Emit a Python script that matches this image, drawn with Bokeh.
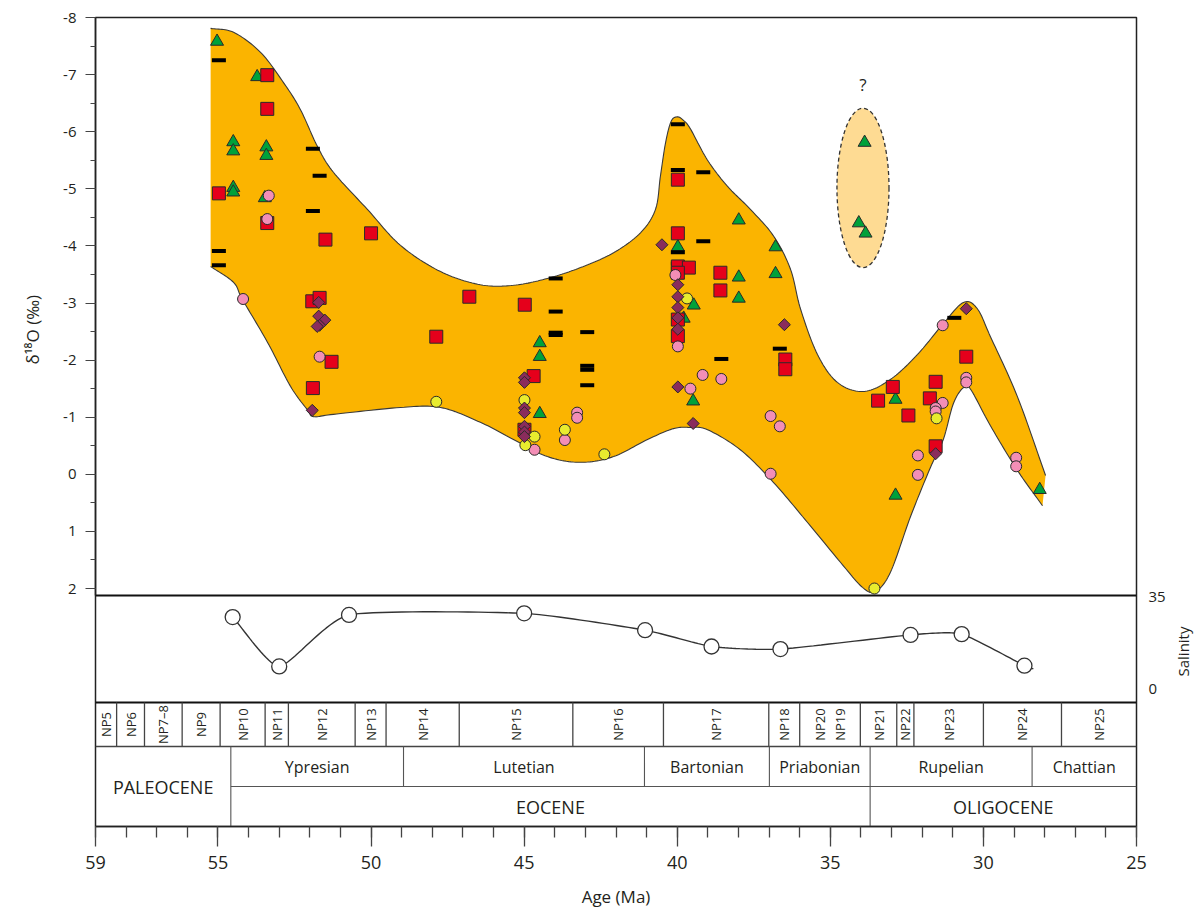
import math
import numpy as np
from bokeh.plotting import figure
from bokeh.layouts import row
from bokeh.models import Range1d, LinearAxis, FixedTicker, SingleIntervalTicker, Title
from bokeh.core.properties import value
from bokeh.embed import file_html
from bokeh.resources import INLINE

# ---------------------------------------------------------------- data
# envelope outline (age in Ma, d18O in permil), upper edge left->right
env_upper_age = [55.24, 54.49, 53.61, 52.86, 52.31, 51.75, 51.23, 50.12, 49.04, 47.73,
                 46.43, 45.35, 44.24, 43.16, 42.08, 41.20, 40.71, 40.55, 40.38, 40.20,
                 40.00, 39.80, 39.57, 39.02, 38.37, 37.61, 36.85, 36.30, 35.97, 35.42,
                 34.77, 33.92, 33.04, 32.15, 31.31, 30.65, 30.20, 29.77, 28.89, 27.97]
env_upper_d = [-7.81, -7.74, -7.39, -6.86, -6.39, -5.74, -5.29, -4.64, -4.01, -3.55,
               -3.32, -3.31, -3.43, -3.62, -3.88, -4.23, -4.64, -5.22, -5.81, -6.18,
               -6.26, -6.20, -6.05, -5.51, -5.05, -4.64, -4.17, -3.59, -2.89, -2.10,
               -1.61, -1.45, -1.66, -2.10, -2.64, -3.01, -2.90, -2.41, -1.36, 0.02]
# lower edge right->left
env_lower_age = [28.07, 28.89, 29.77, 30.42, 30.65, 30.98, 31.31, 31.73, 32.38, 33.04,
                 33.53, 33.95, 34.67, 35.75, 36.86, 37.94, 39.01, 39.57, 40.12, 40.97,
                 42.08, 43.16, 44.24, 45.35, 46.43, 47.73, 49.04, 51.23, 51.88, 52.08,
                 52.63, 53.38, 54.20, 54.49, 55.24]
env_lower_d = [0.55, -0.07, -0.85, -1.49, -1.52, -1.24, -0.61, -0.12, 0.74, 1.72,
               2.05, 1.98, 1.54, 0.84, 0.14, -0.43, -0.78, -0.82, -0.80, -0.61,
               -0.31, -0.21, -0.31, -0.61, -0.91, -1.17, -1.17, -1.05, -1.01, -1.13,
               -1.54, -2.31, -3.06, -3.36, -3.64]

tri_age = [55.03, 53.72, 54.50, 54.50, 53.42, 53.42, 54.50, 54.50, 53.47, 44.49,
           44.49, 44.49, 39.98, 37.99, 36.79, 37.99, 37.99, 36.79, 39.46, 39.79,
           39.48, 32.87, 32.87, 28.16]
tri_d = [-7.58, -6.96, -5.82, -5.66, -5.73, -5.58, -5.02, -4.94, -4.84, -2.30,
         -2.06, -1.06, -3.98, -4.45, -3.98, -3.45, -3.08, -3.51, -2.96, -2.73,
         -1.28, -1.31, 0.37, 0.27]
# isolated group inside the dashed ellipse
odd_age = [33.88, 34.07, 33.85]
odd_d = [-5.81, -4.40, -4.22]

sq_age = [54.97, 53.39, 53.39, 53.39, 51.49, 50.00, 51.92, 51.68, 51.29, 51.90,
          46.79, 44.98, 47.87, 44.69, 44.99, 39.98, 39.98, 39.98, 39.62, 39.98,
          38.59, 38.59, 39.98, 39.98, 36.47, 36.47, 32.96, 33.44, 31.56, 31.75,
          32.45, 31.56, 30.56]
sq_d = [-4.92, -6.99, -6.40, -4.40, -4.11, -4.22, -3.03, -3.09, -1.97, -1.51,
        -3.11, -2.97, -2.41, -1.72, -0.78, -5.16, -4.22, -3.64, -3.62, -3.53,
        -3.53, -3.22, -2.71, -2.42, -2.01, -1.84, -1.53, -1.29, -1.62, -1.33,
        -1.03, -0.49, -2.06]

pink_age = [54.18, 53.34, 53.39, 51.68, 44.66, 43.27, 43.27, 43.67, 40.06, 39.98,
            39.17, 38.56, 39.57, 36.95, 36.65, 36.95, 31.33, 30.56, 30.56, 31.33,
            31.56, 31.56, 32.14, 32.14, 28.93, 28.93]
pink_d = [-3.07, -4.88, -4.47, -2.06, -0.43, -1.08, -0.99, -0.60, -3.49, -2.24,
          -1.74, -1.67, -1.50, -1.02, -0.84, -0.01, -2.61, -1.69, -1.61, -1.25,
          -1.16, -1.10, -0.33, 0.01, -0.29, -0.14]

yel_age = [47.87, 44.99, 44.66, 44.96, 43.67, 42.38, 39.68, 31.53, 33.56]
yel_d = [-1.27, -1.30, -0.66, -0.51, -0.78, -0.35, -3.08, -0.98, 2.00]

dia_age = [51.71, 51.71, 51.51, 51.68, 51.76, 51.92, 44.99, 44.99, 44.99, 44.99,
           44.99, 44.99, 44.99, 40.50, 39.98, 39.98, 39.98, 39.98, 39.98, 39.98,
           39.48, 36.50, 30.56, 31.56]
dia_d = [-3.01, -2.77, -2.70, -2.61, -2.59, -1.12, -1.69, -1.61, -1.16, -1.08,
         -0.84, -0.74, -0.66, -4.02, -3.32, -3.11, -2.92, -2.74, -2.54, -1.53,
         -0.89, -2.62, -2.90, -0.36]

dash_age = [54.97, 51.90, 51.68, 51.90, 54.97, 54.97, 43.97, 43.97, 43.97, 43.97,
            42.94, 42.94, 42.94, 42.94, 39.98, 39.98, 39.15, 39.15, 39.98, 39.98,
            38.56, 36.65, 30.95]
dash_d = [-7.25, -5.70, -5.23, -4.61, -3.91, -3.66, -3.43, -2.85, -2.48, -2.44,
          -2.49, -1.90, -1.83, -1.56, -6.13, -5.33, -5.29, -4.08, -3.89, -3.69,
          -2.02, -2.20, -2.74]

sal_age = [54.52, 53.00, 50.72, 45.00, 41.05, 38.88, 36.63, 32.38, 30.71, 28.66]
sal_val = [27.3, 8.5, 28.1, 28.7, 22.3, 16.1, 15.1, 20.5, 20.8, 8.8]
# the drawn salinity curve runs a little past the last sample
sal_line_end_age = 28.37
sal_line_end_val = 7.6

np_names = ["NP5", "NP6", "NP7–8", "NP9", "NP10", "NP11", "NP12", "NP13", "NP14",
            "NP15", "NP16", "NP17", "NP18", "NP20  NP19", "NP21", "NP22", "NP23",
            "NP24", "NP25"]
np_bounds = [59.0, 58.31, 57.40, 56.17, 54.93, 53.46, 52.70, 50.52, 49.51, 47.12,
             43.41, 40.45, 37.01, 36.00, 34.02, 32.83, 32.27, 30.00, 27.45, 25.0]
stage_names = ["Ypresian", "Lutetian", "Bartonian", "Priabonian", "Rupelian", "Chattian"]
stage_bounds = [54.58, 48.94, 41.07, 36.99, 33.70, 28.41, 25.0]
epoch_names = ["PALEOCENE", "EOCENE", "OLIGOCENE"]
epoch_bounds = [59.0, 54.58, 33.70, 25.0]

x_ticks = [59, 55, 50, 45, 40, 35, 30, 25]
y_ticks = list(range(-8, 3))
sal_ticks = [0, 35]

# ---------------------------------------------------------------- layout helpers
FRAME_TOP, PX_PER_D = 18.0, 57.1          # page px of d18O = -8, px per permil
FRAME_BOTTOM = 827.0
SAL0_PX, PX_PER_SAL = 689.3, 92.0 / 35.0  # page px of salinity 0, px per unit
B_TOP, B_BOTTOM = 17, 84


def d_at(ypx):
    return -8.0 + (ypx - FRAME_TOP) / PX_PER_D


def s_at(ypx):
    return (SAL0_PX - ypx) / PX_PER_SAL


Y_MAIN_BOT = d_at(596)
Y_SAL_BOT = d_at(703)
Y_NP_BOT = d_at(747)
Y_STAGE_BOT = d_at(787)
Y_FRAME_BOT = d_at(FRAME_BOTTOM)


def cardinal(xs, ys, n=14, tension=0.0):
    """Cardinal (Catmull-Rom when tension=0) spline through the given points."""
    P = np.column_stack([xs, ys]).astype(float)
    P = np.vstack([2 * P[0] - P[1], P, 2 * P[-1] - P[-2]])
    t = np.linspace(0, 1, n, endpoint=False)[:, None]
    h00 = 2 * t ** 3 - 3 * t ** 2 + 1
    h10 = t ** 3 - 2 * t ** 2 + t
    h01 = -2 * t ** 3 + 3 * t ** 2
    h11 = t ** 3 - t ** 2
    k = (1 - tension) / 2
    out = []
    for i in range(1, len(P) - 2):
        p0, p1, p2, p3 = P[i - 1], P[i], P[i + 1], P[i + 2]
        m1 = k * (p2 - p0)
        m2 = k * (p3 - p1)
        out.append(h00 * p1 + h10 * m1 + h01 * p2 + h11 * m2)
    out.append(P[-2][None, :])
    a = np.vstack(out)
    return a[:, 0], a[:, 1]


FONT = "Open Sans"
TXT = "#231F20"
ORANGE = "#FBB400"
OUT = "#2a2a2a"

p = figure(frame_width=1041, frame_height=809,
           x_range=Range1d(59, 25), y_range=Range1d(Y_FRAME_BOT, -8),
           output_backend="svg", toolbar_location=None,
           min_border_left=95, min_border_top=B_TOP, min_border_right=30,
           min_border_bottom=B_BOTTOM)
p.extra_y_ranges = {"sal": Range1d(s_at(FRAME_BOTTOM), s_at(FRAME_TOP))}
p.grid.visible = False
p.outline_line_color = "#222222"
p.outline_line_width = 1.5
p.background_fill_color = "white"
p.border_fill_color = "white"

# x axis
xa = p.xaxis[0]
xa.ticker = FixedTicker(ticks=x_ticks, minor_ticks=list(range(25, 60)))
xa.major_tick_out = 20
xa.major_tick_in = 0
xa.minor_tick_out = 11
xa.minor_tick_in = 0
xa.major_tick_line_color = "#444444"
xa.minor_tick_line_color = "#444444"
xa.major_tick_line_width = 1.3
xa.minor_tick_line_width = 1.3
xa.axis_line_color = "#222222"
xa.axis_line_width = 1.5
xa.major_label_text_font = FONT
xa.major_label_text_font_size = "18px"
xa.major_label_text_color = TXT
xa.major_label_standoff = 9
xa.axis_label = "Age (Ma)"
xa.axis_label_text_font = FONT
xa.axis_label_text_font_size = "17px"
xa.axis_label_text_font_style = "normal"
xa.axis_label_text_color = TXT
xa.axis_label_standoff = 13

# left d18O axis
ya = p.yaxis[0]
ya.bounds = (-8, Y_MAIN_BOT)
ya.ticker = SingleIntervalTicker(interval=1, num_minor_ticks=2)
ya.major_label_overrides = {v: str(v) for v in y_ticks}
ya.major_tick_out = 10
ya.major_tick_in = 0
ya.minor_tick_out = 5
ya.minor_tick_in = 0
ya.major_tick_line_color = "#444444"
ya.minor_tick_line_color = "#444444"
ya.axis_line_color = "#222222"
ya.axis_line_width = 1.5
ya.major_label_text_font = FONT
ya.major_label_text_font_size = "15px"
ya.major_label_text_color = TXT
ya.major_label_standoff = 9

# d18O axis title, placed beside the d18O panel
p.add_layout(Title(text="δ¹⁸O (‰)", align="left", offset=FRAME_BOTTOM - 365,
                   vertical_align="middle", standoff=32, text_font=FONT,
                   text_font_size="17px", text_font_style="normal", text_color=TXT), "left")

# right salinity axis
sa = LinearAxis(y_range_name="sal", ticker=FixedTicker(ticks=sal_ticks), bounds=(0, 35))
sa.major_tick_out = 0
sa.major_tick_in = 0
sa.minor_tick_out = 0
sa.minor_tick_in = 0
sa.axis_line_color = None
sa.major_label_text_font = FONT
sa.major_label_text_font_size = "15px"
sa.major_label_text_color = TXT
sa.major_label_standoff = 12
p.add_layout(sa, "right")

# narrow strip to the right carrying the salinity title (reads bottom-to-top)
strip = figure(frame_width=1, frame_height=809, x_range=Range1d(0, 1), y_range=Range1d(0, 1),
               output_backend="svg", toolbar_location=None, min_border_left=25,
               min_border_right=0, min_border_top=B_TOP, min_border_bottom=B_BOTTOM,
               x_axis_location=None, y_axis_location=None)
strip.outline_line_color = None
strip.grid.visible = False
strip.background_fill_color = "white"
strip.border_fill_color = "white"
strip.add_layout(Title(text="Salinity", align="left", offset=FRAME_BOTTOM - 677,
                       vertical_align="middle", standoff=0, text_font=FONT,
                       text_font_size="15px", text_font_style="normal", text_color=TXT), "left")

# envelope
ux, uy = cardinal(env_upper_age, env_upper_d)
lx, ly = cardinal(env_lower_age, env_lower_d)
p.patch(np.concatenate([ux, lx]), np.concatenate([uy, ly]),
        fill_color=ORANGE, line_color=None)
p.line(ux, uy, line_color="#3a3a3a", line_width=1.1)
p.line(lx, ly, line_color="#3a3a3a", line_width=1.1)

# dashed ellipse around the isolated values
ecx = float(np.mean(odd_age))
ecy = (min(odd_d) + max(odd_d)) / 2
eh = (max(odd_d) - min(odd_d)) + 1.2
p.ellipse(x=[ecx], y=[ecy], width=1.70, height=eh, fill_color="#FEDB93",
          line_color="#333333", line_dash="4 3", line_width=1.3)
p.text(x=[ecx], y=[ecy - eh / 2 - 0.42], text=["?"], text_font=value(FONT),
       text_font_size="17px", text_align="center", text_baseline="middle",
       text_color=TXT)

# markers
p.scatter(tri_age + odd_age, tri_d + odd_d, marker="triangle", size=13,
          fill_color="#00A13A", line_color=OUT, line_width=1)
p.scatter(dash_age, dash_d, marker="dash", size=14, line_color="black", line_width=4)
p.scatter(sq_age, sq_d, marker="square", size=13, fill_color="#E5001B",
          line_color=OUT, line_width=1)
p.scatter(pink_age, pink_d, marker="circle", size=11, fill_color="#F38EB6",
          line_color=OUT, line_width=1)
p.scatter(yel_age, yel_d, marker="circle", size=11, fill_color="#E8EC2E",
          line_color=OUT, line_width=1)
p.scatter(dia_age, dia_d, marker="square", angle=math.pi / 4, size=8.5,
          fill_color="#8A2C5C", line_color=OUT, line_width=1)

# salinity panel
sx, sy = cardinal(sal_age + [sal_line_end_age], sal_val + [sal_line_end_val],
                  n=20, tension=0.45)
p.line(sx, sy, y_range_name="sal", line_color="#333333", line_width=1.4)
p.scatter(sal_age, sal_val, y_range_name="sal", marker="circle", size=15,
          fill_color="white", line_color="#333333", line_width=1.3)

# stratigraphic table lines
x0, x1 = 59.0, 25.0
p.segment(x0=[x0, x0], y0=[Y_MAIN_BOT, Y_SAL_BOT], x1=[x1, x1], y1=[Y_MAIN_BOT, Y_SAL_BOT],
          line_color="#111111", line_width=2.2)
p.segment(x0=[x0], y0=[Y_NP_BOT], x1=[x1], y1=[Y_NP_BOT], line_color="#444444", line_width=1.5)
p.segment(x0=[epoch_bounds[1]], y0=[Y_STAGE_BOT], x1=[x1], y1=[Y_STAGE_BOT],
          line_color="#555555", line_width=1.1)
inner_np = np_bounds[1:-1]
p.segment(x0=inner_np, y0=[Y_SAL_BOT] * len(inner_np), x1=inner_np, y1=[Y_NP_BOT] * len(inner_np),
          line_color="#444444", line_width=1.3)
inner_ep = epoch_bounds[1:-1]
p.segment(x0=inner_ep, y0=[Y_NP_BOT] * len(inner_ep), x1=inner_ep, y1=[Y_FRAME_BOT] * len(inner_ep),
          line_color="#555555", line_width=1.1)
inner_st = [b for b in stage_bounds[1:-1] if b not in epoch_bounds]
p.segment(x0=inner_st, y0=[Y_NP_BOT] * len(inner_st), x1=inner_st, y1=[Y_STAGE_BOT] * len(inner_st),
          line_color="#555555", line_width=1.1)

# NP zone labels (rotated)
np_x, np_t = [], []
for i, name in enumerate(np_names):
    c = (np_bounds[i] + np_bounds[i + 1]) / 2
    parts = name.split()
    if len(parts) == 2:
        off = (np_bounds[i] - np_bounds[i + 1]) * 0.16
        np_x += [c + off, c - off]
        np_t += parts
    else:
        np_x.append(c)
        np_t.append(name)
np_y = [(Y_SAL_BOT + Y_NP_BOT) / 2] * len(np_x)
p.text(x=np_x, y=np_y, text=np_t, angle=math.pi / 2, text_font=value(FONT),
       text_font_size="13px", text_align="center", text_baseline="middle", text_color=TXT)

# stage labels
st_x = [(stage_bounds[i] + stage_bounds[i + 1]) / 2 for i in range(len(stage_names))]
p.text(x=st_x, y=[(Y_NP_BOT + Y_STAGE_BOT) / 2] * len(st_x), text=stage_names,
       text_font=value(FONT), text_font_size="16px", text_align="center",
       text_baseline="middle", text_color=TXT)

# epoch labels
ep_x = [(epoch_bounds[i] + epoch_bounds[i + 1]) / 2 for i in range(len(epoch_names))]
ep_y = [(Y_NP_BOT + Y_FRAME_BOT) / 2, (Y_STAGE_BOT + Y_FRAME_BOT) / 2,
        (Y_STAGE_BOT + Y_FRAME_BOT) / 2]
p.text(x=ep_x, y=ep_y, text=epoch_names, text_font=value(FONT), text_font_size="18px",
       text_align="center", text_baseline="middle", text_color=TXT)

layout = row(p, strip)
open("out.html", "w").write(file_html(layout, INLINE))
